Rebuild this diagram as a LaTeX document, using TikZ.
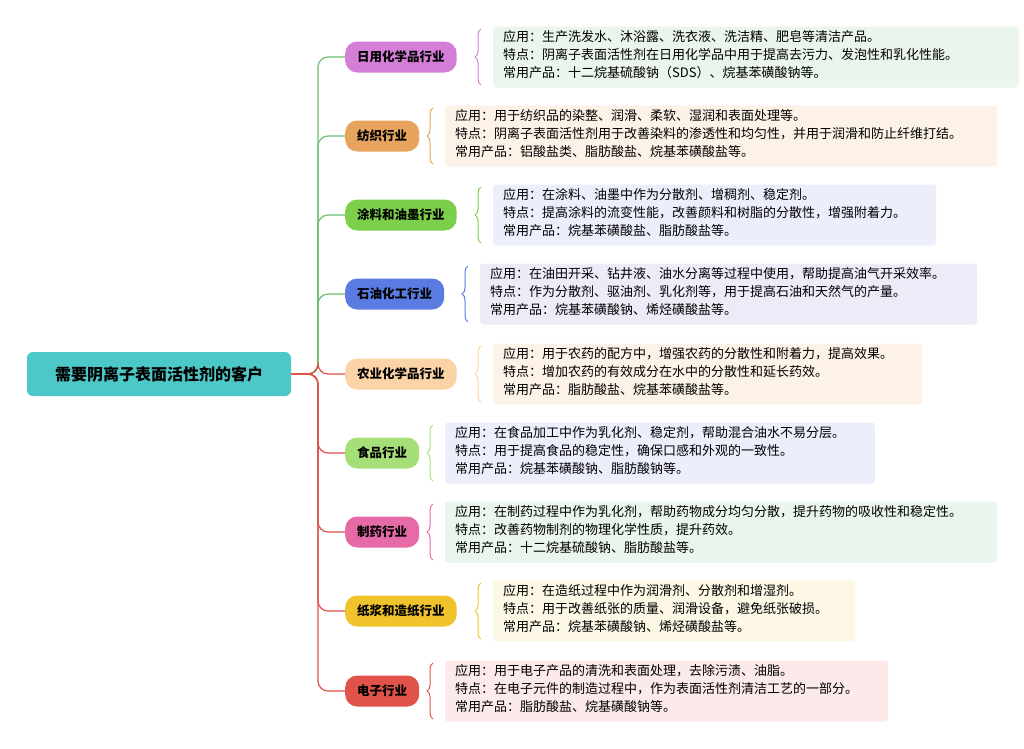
\documentclass[tikz,border=0pt]{standalone}
\usepackage{fontspec}
\setmainfont{Noto Sans CJK SC}
\usetikzlibrary{decorations.pathreplacing,positioning}
\definecolor{cRoot}{HTML}{4CC8C8}
\definecolor{cA}{HTML}{D57ED8}\definecolor{bA}{HTML}{EAF5EC}
\definecolor{cB}{HTML}{E8A45E}\definecolor{bB}{HTML}{FCF2E7}
\definecolor{cC}{HTML}{7CCF4A}\definecolor{bC}{HTML}{ECEEFC}
\definecolor{cD}{HTML}{5A7CE2}\definecolor{bD}{HTML}{EEEBF8}
\definecolor{cE}{HTML}{FAD3A6}\definecolor{bE}{HTML}{FCF2E7}
\definecolor{cF}{HTML}{A6DF78}\definecolor{bF}{HTML}{ECEEFC}
\definecolor{cG}{HTML}{E66AA6}\definecolor{bG}{HTML}{EAF5EC}
\definecolor{cH}{HTML}{F0C32C}\definecolor{bH}{HTML}{FDF7E6}
\definecolor{cI}{HTML}{E0524A}\definecolor{bI}{HTML}{FCE9E9}
\definecolor{lnUp}{HTML}{6DBF72}
\definecolor{lnDn}{HTML}{E0524A}
\tikzset{
  rootbox/.style={fill=cRoot,rounded corners=6pt,minimum width=264,minimum height=44,font=\fontsize{16}{18}\selectfont\bfseries},
  pill/.style={rounded corners=12pt,minimum height=31,inner xsep=12pt,font=\fontsize{12.5}{14}\selectfont\bfseries},
  note/.style={rounded corners=3pt,align=left,anchor=north west,inner xsep=10pt,inner ysep=4pt,font=\fontsize{13}{18}\selectfont,text depth=0pt},
}
\begin{document}
\begin{tikzpicture}[x=1pt,y=-1pt]
\useasboundingbox (0,0) rectangle (1024,748);
\node[rootbox] (root) at (159,374) {需要阴离子表面活性剂的客户};
\foreach \name/\y/\c/\b/\bx/\bw/\ln/\lab/\ta/\tb/\tc in {
 a/57/cA/bA/493/526/lnUp/日用化学品行业/生产洗发水、沐浴露、洗衣液、洗洁精、肥皂等清洁产品。/阴离子表面活性剂在日用化学品中用于提高去污力、发泡性和乳化性能。/十二烷基硫酸钠（SDS）、烷基苯磺酸钠等。,
 b/136/cB/bB/445/552/lnUp/纺织行业/用于纺织品的染整、润滑、柔软、湿润和表面处理等。/阴离子表面活性剂用于改善染料的渗透性和均匀性，并用于润滑和防止纤维打结。/铝酸盐类、脂肪酸盐、烷基苯磺酸盐等。,
 c/215/cC/bC/493/443/lnUp/涂料和油墨行业/在涂料、油墨中作为分散剂、增稠剂、稳定剂。/提高涂料的流变性能，改善颜料和树脂的分散性，增强附着力。/烷基苯磺酸盐、脂肪酸盐等。,
 d/294/cD/bD/480/497/lnUp/石油化工行业/在油田开采、钻井液、油水分离等过程中使用，帮助提高油气开采效率。/作为分散剂、驱油剂、乳化剂等，用于提高石油和天然气的产量。/烷基苯磺酸钠、烯烃磺酸盐等。,
 e/374/cE/bE/493/429/lnDn/农业化学品行业/用于农药的配方中，增强农药的分散性和附着力，提高效果。/增加农药的有效成分在水中的分散性和延长药效。/脂肪酸盐、烷基苯磺酸盐等。,
 f/453/cF/bF/445/430/lnDn/食品行业/在食品加工中作为乳化剂、稳定剂，帮助混合油水不易分层。/用于提高食品的稳定性，确保口感和外观的一致性。/烷基苯磺酸钠、脂肪酸钠等。,
 g/532/cG/bG/445/552/lnDn/制药行业/在制药过程中作为乳化剂，帮助药物成分均匀分散，提升药物的吸收性和稳定性。/改善药物制剂的物理化学性质，提升药效。/十二烷基硫酸钠、脂肪酸盐等。,
 h/611/cH/bH/493/362/lnDn/纸浆和造纸行业/在造纸过程中作为润滑剂、分散剂和增湿剂。/用于改善纸张的质量、润滑设备，避免纸张破损。/烷基苯磺酸钠、烯烃磺酸盐等。,
 i/691/cI/bI/445/443/lnDn/电子行业/用于电子产品的清洗和表面处理，去除污渍、油脂。/在电子元件的制造过程中，作为表面活性剂清洁工艺的一部分。/脂肪酸盐、烷基磺酸钠等。}
{
  \node[pill,fill=\c,anchor=west] (\name) at (345,\y) {\lab};
  \fill[\b,rounded corners=3pt] (\bx,\y-30.5) rectangle ++(\bw,61);
  \node[note] (\name n) at (\bx,\y-30.5) {应用：\ta\\特点：\tb\\常用产品：\tc};
  \draw[\ln,line width=1.2pt,rounded corners=10pt] (root.east) -- (318,374) |- (\name.west);
  \draw[\c,line width=1pt,decorate,decoration={brace,amplitude=6pt}] (\bx-12,\y+28) -- (\bx-12,\y-28);
}
\end{tikzpicture}
\end{document}
